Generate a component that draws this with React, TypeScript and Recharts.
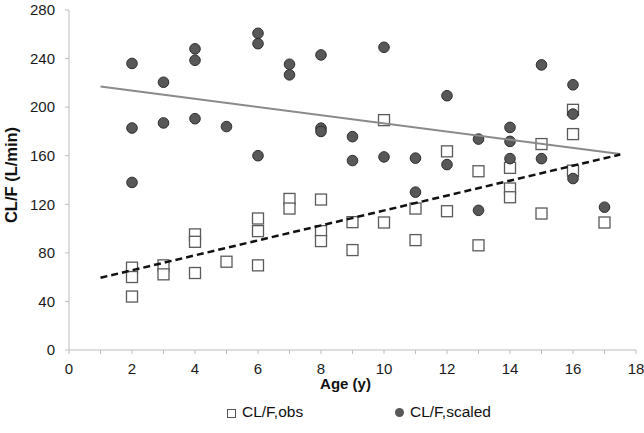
import React from "react";
import { ScatterChart, Scatter, XAxis, YAxis, Legend } from "recharts";

// CL/F observed (open squares)
const obsAge = [2, 2, 2, 3, 3, 4, 4, 4, 5, 6, 6, 6, 7, 7, 8, 8, 8, 9, 9, 10, 10, 11, 11, 12, 12, 13, 13, 14, 14, 14, 15, 15, 16, 16, 16, 17];
const obsClf = [67.8, 60.1, 44, 69.7, 62.3, 95.2, 89.1, 63.4, 72.7, 108.3, 97.9, 69.7, 124.4, 116.5, 123.9, 97.9, 89.7, 105.3, 82.3, 189.3, 105, 116.5, 90.5, 163.6, 114.3, 147.2, 86.2, 150, 133, 125.8, 169.6, 112.4, 197.8, 177.8, 147.7, 105];

// CL/F scaled (filled circles)
const scaledAge = [2, 2, 2, 3, 3, 4, 4, 4, 5, 6, 6, 6, 7, 7, 8, 8, 8, 9, 9, 10, 10, 11, 11, 12, 12, 13, 13, 14, 14, 14, 15, 15, 16, 16, 16, 17];
const scaledClf = [236, 182.8, 138, 220.5, 187, 248, 238.6, 190.5, 184, 260.8, 252.3, 160, 235.3, 226.6, 243, 182.7, 180, 175.7, 156, 249.3, 159, 158, 130, 209.4, 152.7, 173.7, 115, 183.3, 171.8, 157.6, 234.8, 157.6, 218.4, 194.3, 141.2, 117.6];

// trend line end points
const trendAge = [1, 17.5];
const obsTrend = [59.5, 161];
const scaledTrend = [217, 161.4];

const xTicks = [0, 1, 2, 3, 4, 5, 6, 7, 8, 9, 10, 11, 12, 13, 14, 15, 16, 17, 18];
const yTicks = [0, 40, 80, 120, 160, 200, 240, 280];

const toPoints = (xs: number[], ys: number[]) => xs.map((x, i) => ({ x, y: ys[i] }));

const obsData = toPoints(obsAge, obsClf);
const scaledData = toPoints(scaledAge, scaledClf);
const obsTrendData = toPoints(trendAge, obsTrend);
const scaledTrendData = toPoints(trendAge, scaledTrend);

const FONT = "'Liberation Sans', Arial, sans-serif";

const SquareDot = (props: any) => {
  const { cx, cy } = props;
  return <rect x={cx - 5.5} y={cy - 5.5} width={11} height={11} fill="#fff" stroke="#5a5a5a" strokeWidth={1.3} />;
};

const CircleDot = (props: any) => {
  const { cx, cy } = props;
  return <circle cx={cx} cy={cy} r={5.3} fill="#585858" stroke="#2f2f2f" strokeWidth={1} />;
};

const NoDot = () => <g />;

const LegendBox = () => (
  <div style={{ position: "relative", width: 644, height: 43, fontFamily: FONT, fontSize: 15.5, color: "#111" }}>
    <div style={{ position: "absolute", left: 227, top: 19, width: 7, height: 7, border: "1px solid #555", background: "#fff" }} />
    <div style={{ position: "absolute", left: 242, top: 12, lineHeight: "20px" }}>CL/F,obs</div>
    <div style={{ position: "absolute", left: 395, top: 18, width: 9, height: 9, borderRadius: "50%", background: "#585858" }} />
    <div style={{ position: "absolute", left: 410, top: 12, lineHeight: "20px" }}>CL/F,scaled</div>
  </div>
);

export default function App() {
  return (
    <div style={{ position: "absolute", left: 0, top: 0, width: 644, height: 433, background: "#fff" }}>
      <ScatterChart width={644} height={433} margin={{ top: 10, right: 8, bottom: 0, left: 0 }} style={{ fontFamily: FONT }}>
        <XAxis
          type="number"
          dataKey="x"
          domain={[0, 18]}
          ticks={xTicks}
          interval={0}
          tickFormatter={(v: number) => (v % 2 === 0 ? String(v) : "")}
          tickSize={4}
          tickMargin={9}
          stroke="#bdbdbd"
          tick={{ fill: "#1a1a1a", fontSize: 15 }}
          height={40}
          label={{
            content: (p: any) => {
              const vb = p.viewBox;
              return (
                <text x={vb.x + vb.width / 2 - 7} y={vb.y + 39} textAnchor="middle" fontWeight="bold" fontSize={15} fill="#111" fontFamily={FONT}>
                  Age (y)
                </text>
              );
            },
          }}
        />
        <YAxis
          type="number"
          dataKey="y"
          domain={[0, 280]}
          ticks={yTicks}
          interval={0}
          tickSize={4}
          tickMargin={10}
          stroke="#bdbdbd"
          tick={{ fill: "#1a1a1a", fontSize: 15 }}
          width={69}
          label={{
            content: (p: any) => {
              const vb = p.viewBox;
              const cy = vb.y + vb.height / 2 - 5;
              return (
                <text x={11} y={cy} transform={`rotate(-90, 11, ${cy})`} textAnchor="middle" dominantBaseline="central" fontWeight="bold" fontSize={16.5} fill="#111" fontFamily={FONT}>
                  CL/F (L/min)
                </text>
              );
            },
          }}
        />
        <Legend verticalAlign="bottom" height={43} wrapperStyle={{ left: 0, width: 644 }} content={() => <LegendBox />} />
        <Scatter name="CL/F,obs" data={obsData} shape={SquareDot} isAnimationActive={false} />
        <Scatter name="CL/F,scaled" data={scaledData} shape={CircleDot} isAnimationActive={false} />
        <Scatter data={scaledTrendData} shape={NoDot} line={{ stroke: "#8a8a8a", strokeWidth: 2 }} legendType="none" isAnimationActive={false} />
        <Scatter data={obsTrendData} shape={NoDot} line={{ stroke: "#111", strokeWidth: 2.5, strokeDasharray: "7 4" }} legendType="none" isAnimationActive={false} />
      </ScatterChart>
    </div>
  );
}
